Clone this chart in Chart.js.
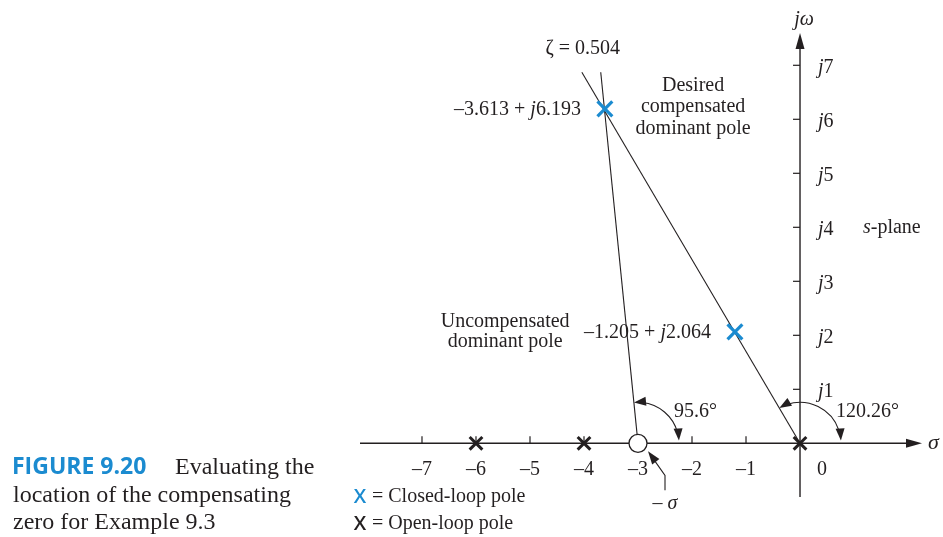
<!DOCTYPE html>
<html>
<head>
<meta charset="utf-8">
<script src="https://cdn.jsdelivr.net/npm/chart.js@4.4.0/dist/chart.umd.min.js"></script>
<style>
  html, body { margin: 0; padding: 0; background: #fff; }
  #wrap { position: relative; width: 943px; height: 537px; }
</style>
</head>
<body>
<div id="wrap"><canvas id="splane"></canvas></div>
<script>
// s-plane data
const openLoopPoles = [-6, -4, 0];
const compZero = [-3];
const closedPolesRe = [-3.613, -1.205];
const closedPolesIm = [6.193, 2.064];
const zetaLineX = [0, -4.04];
const zetaLineY = [0, 6.87];
const zeroLineX = [-3, -3.69];
const zeroLineY = [0, 6.87];
const xTicks = [-7, -6, -5, -4, -3, -2, -1];
const yTicks = [1, 2, 3, 4, 5, 6, 7];
const arcCenters = [-3, 0];
const arcAngles = [95.6, 120.26];
const arcLabels = ['95.6°', '120.26°'];
const zetaLabel = 'ζ = 0.504';

const ink = '#231f20';
const blue = '#1b8bd0';
const serif = '"Liberation Serif", "Times New Roman", serif';
const sans = '"Open Sans", "Noto Sans", sans-serif';

function richText(ctx, parts, x, y, align, size) {
    let total = 0;
    const widths = parts.map(p => {
        ctx.font = (p[1] ? 'italic ' : '') + size + 'px ' + serif;
        const w = ctx.measureText(p[0]).width;
        total += w;
        return w;
    });
    let sx = align === 'center' ? x - total / 2 : align === 'right' ? x - total : x;
    ctx.textAlign = 'left';
    ctx.textBaseline = 'middle';
    parts.forEach((p, i) => {
        ctx.font = (p[1] ? 'italic ' : '') + size + 'px ' + serif;
        ctx.fillText(p[0], sx, y);
        sx += widths[i];
    });
}

function arrowHead(ctx, tipX, tipY, dx, dy, len, half) {
    const n = Math.hypot(dx, dy);
    dx /= n; dy /= n;
    const bx = tipX - dx * len, by = tipY - dy * len;
    ctx.beginPath();
    ctx.moveTo(tipX, tipY);
    ctx.lineTo(bx - dy * half, by + dx * half);
    ctx.lineTo(bx + dy * half, by - dx * half);
    ctx.closePath();
    ctx.fill();
}

function seg(ctx, x1, y1, x2, y2) {
    ctx.beginPath();
    ctx.moveTo(x1, y1);
    ctx.lineTo(x2, y2);
    ctx.stroke();
}

function poleLabel(re, im) {
    return [['\u2013' + Math.abs(re).toFixed(3) + ' + ', false], ['j', true], [im.toFixed(3), false]];
}

const sPlanePlugin = {
    id: 'sPlane',
    beforeDatasetsDraw(chart) {
        const { ctx, chartArea: a, scales: { x, y } } = chart;
        const ox = x.getPixelForValue(0), oy = y.getPixelForValue(0);
        ctx.save();
        ctx.strokeStyle = ink;
        ctx.fillStyle = ink;
        ctx.lineWidth = 1.4;
        seg(ctx, a.left, oy, a.right - 10, oy);
        arrowHead(ctx, a.right, oy, 1, 0, 16, 4.5);
        seg(ctx, ox, a.bottom, ox, a.top + 10);
        arrowHead(ctx, ox, a.top, 0, -1, 16, 4.5);
        ctx.lineWidth = 1.2;
        xTicks.forEach(v => {
            const px = x.getPixelForValue(v);
            seg(ctx, px, oy, px, oy - 7);
        });
        yTicks.forEach(v => {
            const py = y.getPixelForValue(v);
            seg(ctx, ox - 7, py, ox, py);
        });
        ctx.restore();
    },
    afterDatasetsDraw(chart) {
        const { ctx, chartArea: a, scales: { x, y } } = chart;
        const ox = x.getPixelForValue(0), oy = y.getPixelForValue(0);
        ctx.save();
        ctx.fillStyle = ink;
        ctx.strokeStyle = ink;

        // tick labels
        xTicks.forEach(v => {
            richText(ctx, [['\u2013' + Math.abs(v), false]], x.getPixelForValue(v), oy + 26, 'center', 20);
        });
        richText(ctx, [['0', false]], ox + 22, oy + 26, 'center', 20);
        yTicks.forEach(v => {
            richText(ctx, [['j', true], [String(v), false]], ox + 18, y.getPixelForValue(v) + 2, 'left', 20);
        });
        richText(ctx, [['j\u03c9', true]], ox + 4, a.top - 13, 'center', 20);
        richText(ctx, [['\u03c3', true]], a.right + 6, oy, 'left', 22);
        richText(ctx, [['s', true], ['-plane', false]], x.getPixelForValue(1.7), y.getPixelForValue(4), 'center', 20);

        // zeta line label
        richText(ctx, [[zetaLabel, false]], x.getPixelForValue(zetaLineX[1]) + 1, y.getPixelForValue(zetaLineY[1]) - 24, 'center', 20);

        // closed-loop pole labels
        closedPolesRe.forEach((re, i) => {
            const px = x.getPixelForValue(re), py = y.getPixelForValue(closedPolesIm[i]);
            richText(ctx, poleLabel(re, closedPolesIm[i]), px - 24, py + 1, 'right', 20);
        });

        const dx = x.getPixelForValue(-1.98), dy = y.getPixelForValue(6.23);
        ['Desired', 'compensated', 'dominant pole'].forEach((t, i) => {
            richText(ctx, [[t, false]], dx, dy + (i - 1) * 21.5, 'center', 20);
        });
        const ux = x.getPixelForValue(-5.46), uy = y.getPixelForValue(closedPolesIm[1]);
        ['Uncompensated', 'dominant pole'].forEach((t, i) => {
            richText(ctx, [[t, false]], ux, uy + (i - 0.5) * 20, 'center', 20);
        });

        // angle arcs with arrowheads at both ends
        const R = 41;
        ctx.lineWidth = 1.1;
        arcCenters.forEach((c, i) => {
            const cx = x.getPixelForValue(c);
            const a1 = -arcAngles[i] * Math.PI / 180 + 0.2;
            const a2 = -4 * Math.PI / 180 - 0.2;
            ctx.beginPath();
            ctx.arc(cx, oy, R, a1, a2);
            ctx.stroke();
            const s = -arcAngles[i] * Math.PI / 180;
            arrowHead(ctx, cx + R * Math.cos(s), oy + R * Math.sin(s), Math.sin(s), -Math.cos(s), 12, 4.5);
            const e = -4 * Math.PI / 180;
            arrowHead(ctx, cx + R * Math.cos(e), oy + R * Math.sin(e), -Math.sin(e), Math.cos(e), 12, 4.5);
            richText(ctx, [[arcLabels[i], false]], cx + 36, oy - 32, 'left', 20);
        });

        // -sigma pointer
        const zx = x.getPixelForValue(compZero[0]);
        ctx.beginPath();
        ctx.moveTo(zx + 27, oy + 47);
        ctx.lineTo(zx + 27, oy + 32);
        ctx.lineTo(zx + 15, oy + 15);
        ctx.stroke();
        arrowHead(ctx, zx + 10, oy + 8, -12, -16, 13, 4.5);
        richText(ctx, [['\u2013 ', false], ['\u03c3', true]], zx + 27, oy + 60, 'center', 20);
        ctx.restore();
    },
    afterDraw(chart) {
        const { ctx } = chart;
        ctx.save();
        // legend
        ctx.textBaseline = 'middle';
        ctx.textAlign = 'center';
        ctx.font = '600 20px ' + sans;
        ctx.fillStyle = blue;
        ctx.fillText('X', 360, 497);
        ctx.fillStyle = ink;
        ctx.fillText('X', 360, 524);
        richText(ctx, [['= Closed-loop pole', false]], 372, 497, 'left', 20);
        richText(ctx, [['= Open-loop pole', false]], 372, 524, 'left', 20);

        // figure caption
        ctx.font = 'bold 23px ' + sans;
        ctx.fillStyle = blue;
        ctx.textAlign = 'left';
        ctx.fillText('FIGURE 9.20', 12, 467);
        ctx.fillStyle = ink;
        richText(ctx, [['Evaluating the', false]], 175, 468, 'left', 24);
        richText(ctx, [['location of the compensating', false]], 13, 496, 'left', 24);
        richText(ctx, [['zero for Example 9.3', false]], 13, 523, 'left', 24);
        ctx.restore();
    }
};

new Chart(document.getElementById('splane'), {
    type: 'scatter',
    data: {
        datasets: [
            {
                label: 'Damping line',
                data: zetaLineX.map((v, i) => ({ x: v, y: zetaLineY[i] })),
                showLine: true,
                borderColor: ink,
                borderWidth: 1.1,
                pointRadius: 0,
                order: 3
            },
            {
                label: 'Zero line',
                data: zeroLineX.map((v, i) => ({ x: v, y: zeroLineY[i] })),
                showLine: true,
                borderColor: ink,
                borderWidth: 1.1,
                pointRadius: 0,
                order: 3
            },
            {
                label: 'Compensating zero',
                data: compZero.map(v => ({ x: v, y: 0 })),
                pointStyle: 'circle',
                pointRadius: 9,
                backgroundColor: '#fff',
                borderColor: ink,
                borderWidth: 1.3,
                order: 1
            },
            {
                label: 'Open-loop pole',
                data: openLoopPoles.map(v => ({ x: v, y: 0 })),
                pointStyle: 'crossRot',
                pointRadius: 9,
                borderColor: ink,
                borderWidth: 3,
                order: 0
            },
            {
                label: 'Closed-loop pole',
                data: closedPolesRe.map((v, i) => ({ x: v, y: closedPolesIm[i] })),
                pointStyle: 'crossRot',
                pointRadius: 10.5,
                borderColor: blue,
                borderWidth: 3.2,
                order: 0
            }
        ]
    },
    options: {
        responsive: true,
        maintainAspectRatio: false,
        animation: false,
        events: [],
        layout: { padding: { left: 360, right: 21, top: 33, bottom: 40 } },
        plugins: {
            legend: { display: false },
            tooltip: { enabled: false }
        },
        scales: {
            x: { type: 'linear', display: false, min: -8.148, max: 2.259 },
            y: { type: 'linear', display: false, min: -0.994, max: 7.598 }
        }
    },
    plugins: [sPlanePlugin]
});
</script>
</body>
</html>
